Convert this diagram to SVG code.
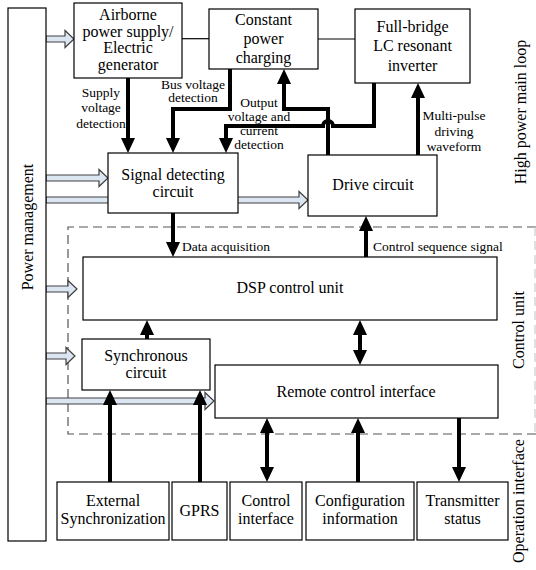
<svg xmlns="http://www.w3.org/2000/svg" width="536" height="570" viewBox="0 0 536 570" font-family="'Liberation Serif', 'Times New Roman', serif">
<style>
text{font-family:'Liberation Serif','Times New Roman',serif}
.box{fill:#fff;stroke:#000;stroke-width:1.2}
.t{font-size:16px;fill:#000;text-anchor:middle}
.l{font-size:13.5px;fill:#000;text-anchor:middle}
.ls{font-size:13.5px;fill:#000}
.c{fill:none;stroke:#000;stroke-width:4}
.hol{fill:#dce6f2;stroke:#404040;stroke-width:1.2}
.thin{fill:none;stroke:#000;stroke-width:1.2}
</style>
<defs>
<marker id="ah" markerUnits="userSpaceOnUse" markerWidth="15" markerHeight="14" refX="7" refY="7" orient="auto-start-reverse">
<path d="M0,0 L15,7 L0,14 Z" fill="#000"/>
</marker>
</defs>

<g id="control-region">
<path d="M536,227 H68 V434 H536" fill="none" stroke="#555" stroke-width="1.2" stroke-dasharray="9 5"/>
<path d="M535,227 V434" fill="none" stroke="#ccc" stroke-width="1.2" stroke-dasharray="9 5"/>
</g>

<g id="power-arrows">
<path class="hol" d="M46,36 H65 V30.5 L74,39 L65,47.5 V42 H46 Z"/>
<path class="hol" d="M46,175 H99 V169.5 L108,178 L99,186.5 V181 H46 Z"/>
<path class="hol" d="M46,197 H299 V191.5 L308,200 L299,208.5 V203 H46 Z"/>
<path class="hol" d="M46,286 H68 V280.5 L77,289 L68,297.5 V292 H46 Z"/>
<path class="hol" d="M46,353 H66 V347.5 L75,356 L66,364.5 V359 H46 Z"/>
<path class="hol" d="M46,398 H205 V392.5 L214,401 L205,409.5 V404 H46 Z"/>
</g>

<g id="power-management">
<rect class="box" x="8" y="8" width="38" height="533"/>
<text class="t" transform="translate(33,227) rotate(-90)">Power management</text>
</g>

<g id="airborne">
<rect class="box" x="74" y="3" width="108" height="75"/>
<text class="t" x="128" y="19.5">Airborne</text>
<text class="t" x="128" y="36.5">power supply/</text>
<text class="t" x="128" y="53">Electric</text>
<text class="t" x="128" y="70">generator</text>
</g>

<g id="constant-power">
<rect class="box" x="209" y="9" width="109" height="60"/>
<text class="t" x="263.5" y="25">Constant</text>
<text class="t" x="263.5" y="44">power</text>
<text class="t" x="263.5" y="63">charging</text>
</g>

<g id="full-bridge">
<rect class="box" x="355" y="9" width="115" height="74"/>
<text class="t" x="412.5" y="31.5">Full-bridge</text>
<text class="t" x="412.5" y="51">LC resonant</text>
<text class="t" x="412.5" y="70.5">inverter</text>
</g>

<g id="signal-detecting">
<rect class="box" x="108" y="153" width="130" height="60"/>
<text class="t" x="173" y="180">Signal detecting</text>
<text class="t" x="173" y="197">circuit</text>
</g>

<g id="drive-circuit">
<rect class="box" x="308" y="155" width="129" height="61"/>
<text class="t" x="373" y="190">Drive circuit</text>
</g>

<g id="dsp">
<rect class="box" x="83" y="257" width="414" height="63"/>
<text class="t" x="290" y="293">DSP control unit</text>
</g>

<g id="synchronous">
<rect class="box" x="82" y="339" width="128" height="51"/>
<text class="t" x="146" y="361">Synchronous</text>
<text class="t" x="146" y="378">circuit</text>
</g>

<g id="remote-control">
<rect class="box" x="215" y="365" width="283" height="53"/>
<text class="t" x="356" y="397">Remote control interface</text>
</g>

<g id="external-sync">
<rect class="box" x="57" y="482" width="112" height="58"/>
<text class="t" x="113" y="506">External</text>
<text class="t" x="113" y="523.5">Synchronization</text>
</g>

<g id="gprs">
<rect class="box" x="172" y="482" width="55" height="58"/>
<text class="t" x="199.5" y="516">GPRS</text>
</g>

<g id="control-interface">
<rect class="box" x="230" y="482" width="72" height="58"/>
<text class="t" x="266" y="505.5">Control</text>
<text class="t" x="266" y="523.5">interface</text>
</g>

<g id="configuration">
<rect class="box" x="306" y="482" width="108" height="58"/>
<text class="t" x="360" y="505.5">Configuration</text>
<text class="t" x="360" y="523.5">information</text>
</g>

<g id="transmitter-status">
<rect class="box" x="417" y="482" width="91" height="58"/>
<text class="t" x="462.5" y="505.5">Transmitter</text>
<text class="t" x="462.5" y="523.5">status</text>
</g>

<g id="connectors">
<path class="thin" d="M182,38.7 H209"/>
<path class="thin" d="M318,39 H355"/>
<path class="c" d="M128,78 V145" marker-end="url(#ah)"/>
<path class="c" d="M230,69 V109 H173 V145" marker-end="url(#ah)"/>
<path class="c" d="M374,83 V126 H333 A5,5 0 0 0 323,126 H226 V145" marker-end="url(#ah)"/>
<path class="c" d="M328,155 V109 H284 V77" marker-end="url(#ah)"/>
<path class="c" d="M418,155 V91" marker-end="url(#ah)"/>
<path class="c" d="M173,213 V249" marker-end="url(#ah)"/>
<path class="c" d="M366,257 V224" marker-end="url(#ah)"/>
<path class="c" d="M147,339 V328" marker-end="url(#ah)"/>
<path class="c" d="M360,328 V357" marker-start="url(#ah)" marker-end="url(#ah)"/>
<path class="c" d="M110,482 V398" marker-end="url(#ah)"/>
<path class="c" d="M200,482 V398" marker-end="url(#ah)"/>
<path class="c" d="M267,426 V474" marker-start="url(#ah)" marker-end="url(#ah)"/>
<path class="c" d="M358,482 V426" marker-end="url(#ah)"/>
<path class="c" d="M459,418 V474" marker-end="url(#ah)"/>
</g>

<g id="labels">
<text class="l" x="101" y="96.5">Supply</text>
<text class="l" x="101" y="112">voltage</text>
<text class="l" x="101" y="127.5">detection</text>
<text class="l" x="193" y="88.5">Bus voltage</text>
<text class="l" x="193" y="102">detection</text>
<text class="l" x="259" y="107">Output</text>
<text class="l" x="259" y="121">voltage and</text>
<text class="l" x="259" y="135">current</text>
<text class="l" x="259" y="149">detection</text>
<text class="l" x="454" y="120">Multi-pulse</text>
<text class="l" x="454" y="135.5">driving</text>
<text class="l" x="454" y="151">waveform</text>
<text class="ls" x="182" y="251">Data acquisition</text>
<text class="ls" x="373" y="251">Control sequence signal</text>
<text class="t" transform="translate(526,112) rotate(-90)">High power main loop</text>
<text class="t" transform="translate(524,330) rotate(-90)">Control unit</text>
<text class="t" transform="translate(524,501) rotate(-90)">Operation interface</text>
</g>
</svg>
